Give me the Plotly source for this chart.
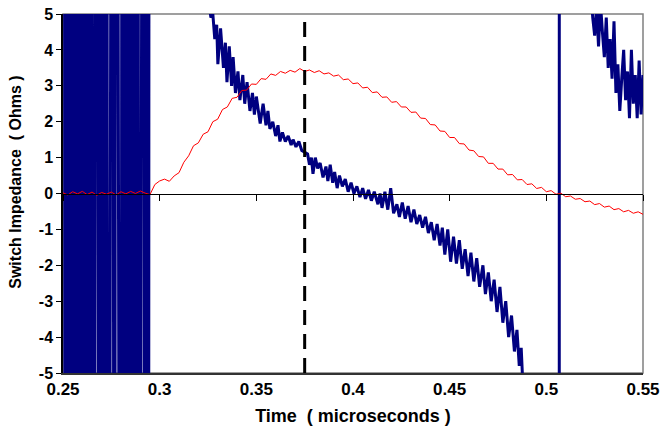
import plotly.graph_objects as go

# ---------------- data ----------------
# Switch impedance (blue) -- dense off-scale oscillation region at the start
DENSE_T = [0.2505, 0.2513, 0.2521, 0.2529, 0.2537, 0.2545, 0.2553, 0.2561, 0.2569, 0.2577,
           0.2585, 0.2593, 0.2601, 0.2609, 0.2617, 0.2625, 0.2633, 0.2641, 0.2649, 0.2653,
           0.2677, 0.2685, 0.2693, 0.2701, 0.2709, 0.2717, 0.2725, 0.2733,
           0.2757, 0.2765, 0.2775,
           0.2799, 0.2807, 0.2815, 0.2823, 0.2831, 0.2839, 0.2847, 0.2855, 0.2863, 0.2871,
           0.2879, 0.2887, 0.2893,
           0.2917, 0.2925, 0.2933, 0.2941, 0.2947]
DENSE_Z = [40, -40, 40, -40, 40, -40, 40, -40, 40, -40,
           40, -40, 40, -40, 40, -40, 40, -40, 40, -40,
           40, -40, 40, -40, 40, -40, 40, -40,
           40, -40, 40,
           -40, 40, -40, 40, -40, 40, -40, 40, -40, 40,
           -40, 40, -40,
           40, -40, 40, -40, 40]

BLUE_T = [0.2950, 0.3000, 0.3100, 0.3200, 0.3255, 0.3265, 0.3275, 0.3285, 0.3295, 0.3301,
          0.3315, 0.3330, 0.3340, 0.3348, 0.3360, 0.3372, 0.3380, 0.3392, 0.3405, 0.3415,
          0.3430, 0.3440, 0.3452, 0.3467, 0.3480, 0.3490, 0.3500, 0.3520, 0.3535, 0.3550,
          0.3560, 0.3570, 0.3585, 0.3600, 0.3612, 0.3622, 0.3635, 0.3650, 0.3665, 0.3680,
          0.3690, 0.3705, 0.3720, 0.3735, 0.3750, 0.3765, 0.3775, 0.3785, 0.3793, 0.3805,
          0.3817, 0.3830, 0.3845, 0.3860, 0.3870, 0.3882, 0.3895, 0.3905, 0.3918, 0.3930,
          0.3945, 0.3960, 0.3975, 0.3990, 0.4005, 0.4020, 0.4036, 0.4050, 0.4065, 0.4080,
          0.4095, 0.4110, 0.4129, 0.4140, 0.4150, 0.4165, 0.4180, 0.4195, 0.4210, 0.4227,
          0.4240, 0.4255, 0.4270, 0.4285, 0.4300, 0.4315, 0.4330, 0.4345, 0.4360, 0.4375,
          0.4390, 0.4405, 0.4420, 0.4435, 0.4450, 0.4462, 0.4475, 0.4490, 0.4505, 0.4520,
          0.4535, 0.4550, 0.4565, 0.4580, 0.4595, 0.4610, 0.4625, 0.4640, 0.4655, 0.4672,
          0.4685, 0.4700, 0.4715, 0.4730, 0.4745, 0.4760, 0.4775, 0.4790, 0.4805, 0.4820,
          0.4835, 0.4848, 0.4860, 0.4870, 0.4880, 0.4890, 0.4900, 0.4950, 0.5000, 0.5050,
          0.5066, 0.5068, 0.5100, 0.5150, 0.5200, 0.5235, 0.5240, 0.5250, 0.5260, 0.5270,
          0.5280, 0.5290, 0.5300, 0.5310, 0.5320, 0.5330, 0.5340, 0.5350, 0.5360, 0.5370,
          0.5380, 0.5390, 0.5400, 0.5410, 0.5420, 0.5430, 0.5440, 0.5450, 0.5460, 0.5470,
          0.5480, 0.5490, 0.5500]
BLUE_Z = [40, 25, 12, 7.5, 5.3, 4.9, 5.0, 4.3, 4.7, 3.6,
          4.6, 3.5, 4.2, 3.1, 4.1, 3.0, 3.8, 2.8, 3.4, 2.6,
          3.3, 2.5, 3.1, 2.3, 2.8, 2.2, 2.7, 1.95, 2.5, 1.9,
          2.3, 1.8, 2.0, 1.6, 1.9, 1.45, 1.7, 1.45, 1.6, 1.35,
          1.5, 1.3, 1.45, 1.2, 1.15, 1.1, 0.8, 1.0, 0.55, 1.0,
          0.7, 0.85, 0.45, 0.75, 0.35, 0.8, 0.3, 0.6, 0.15, 0.5,
          0.2, 0.4, 0.05, 0.3, 0.0, 0.2, -0.1, 0.15, -0.15, 0.1,
          -0.2, 0.05, -0.3, 0.0, -0.4, 0.05, -0.45, 0.15, -0.55, -0.3,
          -0.65, -0.25, -0.7, -0.35, -0.8, -0.45, -0.85, -0.6, -0.95, -0.65,
          -1.1, -0.8, -1.3, -0.85, -1.45, -0.95, -1.7, -1.0, -1.9, -1.2,
          -1.95, -1.3, -2.1, -1.55, -2.3, -1.65, -2.45, -1.8, -2.6, -2.0,
          -2.8, -2.2, -3.0, -2.4, -3.3, -2.6, -3.6, -3.0, -4.0, -3.4,
          -4.4, -3.8, -4.8, -4.3, -5.5, -5.0, -6.5, -9, -15, -40,
          -200, 200, 30, 12, 7, 5.3, 4.9, 4.4, 5.2, 4.1,
          5.3, 4.5, 3.8, 4.9, 3.5, 4.3, 3.2, 4.8, 2.8, 3.6,
          2.3, 3.2, 4.0, 2.6, 3.4, 2.1, 4.0, 2.5, 3.3, 2.1,
          3.7, 2.2, 3.3]

# Red reference curve
RED_T = [0.2500, 0.2525, 0.2550, 0.2575, 0.2600, 0.2625, 0.2650, 0.2675, 0.2700, 0.2725,
         0.2750, 0.2775, 0.2800, 0.2825, 0.2850, 0.2875, 0.2900, 0.2925, 0.2950, 0.2975,
         0.3000, 0.3025, 0.3050, 0.3075, 0.3100, 0.3125, 0.3150, 0.3175, 0.3200, 0.3225,
         0.3250, 0.3275, 0.3300, 0.3325, 0.3350, 0.3375, 0.3400, 0.3425, 0.3450, 0.3475,
         0.3500, 0.3525, 0.3550, 0.3575, 0.3600, 0.3625, 0.3650, 0.3675, 0.3700, 0.3725,
         0.3750, 0.3775, 0.3800, 0.3825, 0.3850, 0.3875, 0.3900, 0.3925, 0.3950, 0.3975,
         0.4000, 0.4025, 0.4050, 0.4075, 0.4100, 0.4125, 0.4150, 0.4175, 0.4200, 0.4225,
         0.4250, 0.4275, 0.4300, 0.4325, 0.4350, 0.4375, 0.4400, 0.4425, 0.4450, 0.4475,
         0.4500, 0.4525, 0.4550, 0.4575, 0.4600, 0.4625, 0.4650, 0.4675, 0.4700, 0.4725,
         0.4750, 0.4775, 0.4800, 0.4825, 0.4850, 0.4875, 0.4900, 0.4925, 0.4950, 0.4975,
         0.5000, 0.5025, 0.5050, 0.5075, 0.5100, 0.5125, 0.5150, 0.5175, 0.5200, 0.5225,
         0.5250, 0.5275, 0.5300, 0.5325, 0.5350, 0.5375, 0.5400, 0.5425, 0.5450, 0.5475,
         0.5500]
RED_Z = [0.02, -0.04, 0.05, -0.01, 0.06, -0.03, 0.04, -0.05, 0.03, -0.02,
         0.04, -0.04, 0.05, -0.01, 0.06, 0.00, 0.07, 0.01, -0.03, 0.25,
         0.35, 0.40, 0.34, 0.49, 0.58, 0.87, 1.05, 1.33, 1.41, 1.65,
         1.72, 2.00, 2.07, 2.34, 2.41, 2.65, 2.68, 2.87, 2.88, 3.05,
         3.04, 3.20, 3.18, 3.33, 3.29, 3.40, 3.35, 3.43, 3.38, 3.48,
         3.40, 3.44, 3.37, 3.42, 3.33, 3.36, 3.27, 3.30, 3.17, 3.19,
         3.06, 3.08, 2.94, 2.96, 2.81, 2.83, 2.68, 2.69, 2.54, 2.56,
         2.41, 2.41, 2.26, 2.27, 2.10, 2.09, 1.92, 1.91, 1.74, 1.73,
         1.56, 1.56, 1.39, 1.38, 1.21, 1.19, 1.03, 1.02, 0.84, 0.84,
         0.68, 0.68, 0.52, 0.53, 0.38, 0.39, 0.25, 0.27, 0.14, 0.17,
         0.05, 0.08, -0.02, 0.01, -0.09, -0.07, -0.16, -0.14, -0.23, -0.21,
         -0.31, -0.28, -0.38, -0.35, -0.45, -0.42, -0.51, -0.47, -0.55, -0.51,
         -0.58]

PEAK_T = 0.375  # dashed marker time
X_TICKS = [0.25, 0.30, 0.35, 0.40, 0.45, 0.50, 0.55]
X_TICK_TEXT = ["0.25", "0.3", "0.35", "0.4", "0.45", "0.5", "0.55"]
Y_TICKS = [-5, -4, -3, -2, -1, 0, 1, 2, 3, 4, 5]
Y_TICK_TEXT = ["-5", "-4", "-3", "-2", "-1", "0", "1", "2", "3", "4", "5"]
X_TITLE = "Time  ( microseconds )"
Y_TITLE = "Switch Impedance  ( Ohms )"

NAVY = "#000080"
RED = "#ff0000"
FONT = "Liberation Sans, Arial, sans-serif"

fig = go.Figure()

fig.add_trace(go.Scatter(x=DENSE_T + BLUE_T, y=DENSE_Z + BLUE_Z, mode="lines",
                         line=dict(color=NAVY, width=3, simplify=False), hoverinfo="skip",
                         showlegend=False))
fig.add_trace(go.Scatter(x=RED_T, y=RED_Z, mode="lines",
                         line=dict(color=RED, width=1, simplify=False), hoverinfo="skip",
                         showlegend=False))
# invisible trace to host the zero-line axis
fig.add_trace(go.Scatter(x=[X_TICKS[0]], y=[0], xaxis="x2", mode="markers",
                         marker=dict(opacity=0), hoverinfo="skip", showlegend=False))

fig.add_vline(x=PEAK_T, line=dict(color="black", width=3, dash="15px,9px"))

# light frame around the plot area
fig.add_shape(type="rect", xref="paper", yref="paper", x0=0, x1=1, y0=0, y1=1,
              line=dict(color="#808080", width=1.5), layer="below")

# y-axis title as annotation (placed slightly above centre like the original)
fig.add_annotation(text=Y_TITLE, xref="paper", yref="paper", x=-0.081, y=0.53,
                   xanchor="center", yanchor="middle", textangle=-90, showarrow=False,
                   font=dict(size=16, family=FONT, weight="bold", color="black"))

fig.update_layout(
    width=662, height=431,
    margin=dict(l=63, r=19, t=14, b=58),
    paper_bgcolor="white", plot_bgcolor="white",
    font=dict(family=FONT, color="black", size=16, weight="bold"),
    showlegend=False,
    xaxis=dict(range=[0.25, 0.55], tickvals=X_TICKS, ticktext=X_TICK_TEXT,
               automargin=False,
               showgrid=False, zeroline=False, showline=True, linecolor="#333333",
               linewidth=1.5, ticks="", tickfont=dict(size=17, family=FONT, weight="bold"),
               title=dict(text=X_TITLE, standoff=11,
                          font=dict(size=18, family=FONT, weight="bold"))),
    xaxis2=dict(overlaying="x", matches="x", anchor="free", position=0.5,
                automargin=False,
                tickvals=X_TICKS, showticklabels=False, ticks="outside", ticklen=6,
                tickcolor="black", tickwidth=1, showline=True, linecolor="black",
                linewidth=1, showgrid=False, zeroline=False),
    yaxis=dict(range=[-5, 5], tickvals=Y_TICKS, ticktext=Y_TICK_TEXT,
               automargin=False,
               showgrid=False, zeroline=False, showline=True, linecolor="black",
               linewidth=1.5, ticks="outside", ticklen=5, tickcolor="black",
               tickfont=dict(size=16, family=FONT, weight="bold")),
)

fig.write_html("out.html")
